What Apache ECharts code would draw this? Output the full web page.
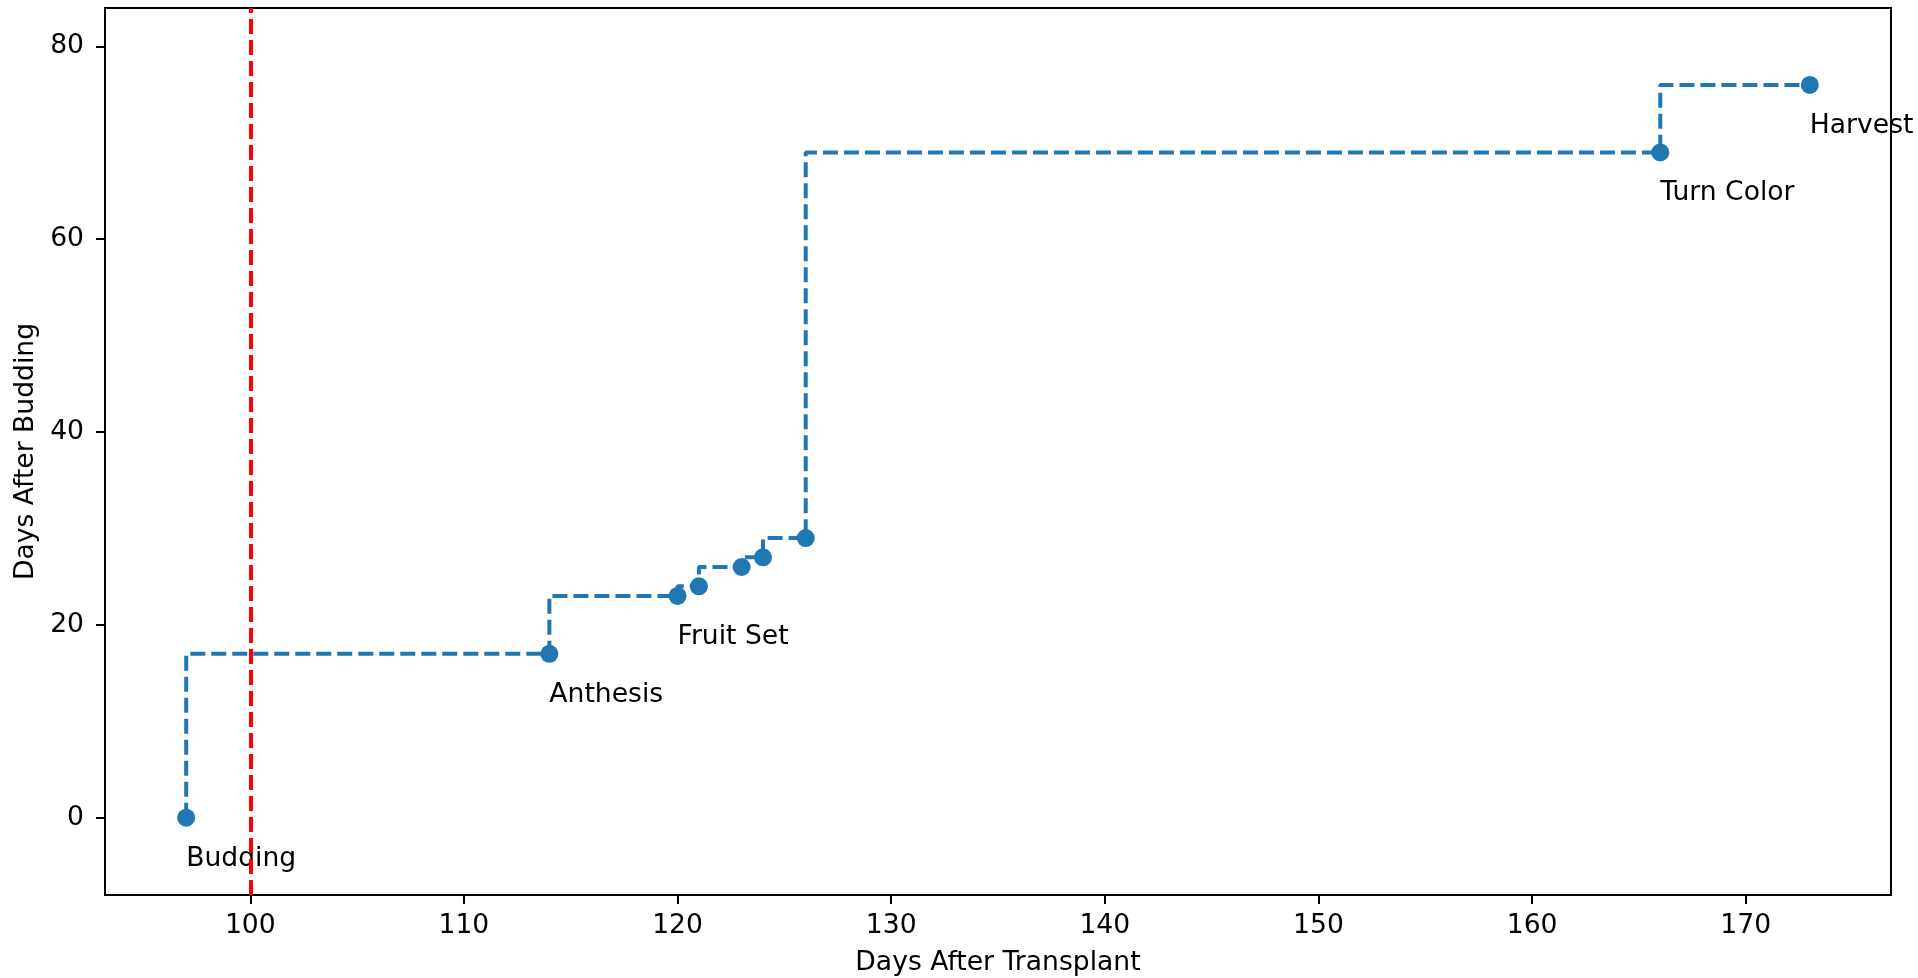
<!DOCTYPE html>
<html>
<head>
<meta charset="utf-8">
<script src="https://cdn.jsdelivr.net/npm/echarts@6/dist/echarts.min.js"></script>
<style>
html,body{margin:0;padding:0;background:#fff;}
#chart{width:1918px;height:978px;}
</style>
</head>
<body>
<div id="chart"></div>
<script>
// Data
const daysAfterTransplant = [97, 114, 120, 121, 123, 124, 126, 166, 173];
const daysAfterBudding   = [0, 17, 23, 24, 26, 27, 29, 69, 76];
const stageLabels        = ['Budding', 'Anthesis', 'Fruit Set', '', '', '', '', 'Turn Color', 'Harvest'];
const xTickValues = [100, 110, 120, 130, 140, 150, 160, 170];
const yTickValues = [0, 20, 40, 60, 80];
const referenceDay = 100;

const FONT = 'DejaVu Sans';
const FS = 26.6;

const points = daysAfterTransplant.map((x, i) => ({
  value: [x, daysAfterBudding[i]],
  label: { show: stageLabels[i] !== '', formatter: stageLabels[i] }
}));

const chart = echarts.init(document.getElementById('chart'));
chart.setOption({
  animation: false,
  backgroundColor: '#fff',
  textStyle: { fontFamily: FONT },
  grid: {
    left: 105, right: 27, top: 8, bottom: 83,
    containLabel: false,
    outerBoundsMode: 'none',
    show: true, borderColor: '#000', borderWidth: 2, backgroundColor: 'transparent'
  },
  xAxis: {
    type: 'value',
    min: 93.2, max: 176.8,
    name: 'Days After Transplant',
    nameLocation: 'middle',
    nameGap: 55,
    nameTextStyle: { fontFamily: FONT, fontSize: FS, color: '#000' },
    axisLine: { show: true, onZero: false, lineStyle: { color: '#000', width: 2 } },
    axisTick: { show: true, inside: false, length: 9, customValues: xTickValues, lineStyle: { color: '#000', width: 2 } },
    axisLabel: { show: true, customValues: xTickValues, margin: 18, fontFamily: FONT, fontSize: FS, color: '#000' },
    splitLine: { show: false }
  },
  yAxis: {
    type: 'value',
    min: -8.02, max: 83.98,
    name: 'Days After Budding',
    nameLocation: 'middle',
    nameGap: 61,
    nameTextStyle: { fontFamily: FONT, fontSize: FS, color: '#000' },
    axisLine: { show: true, onZero: false, lineStyle: { color: '#000', width: 2 } },
    axisTick: { show: true, inside: false, length: 9, customValues: yTickValues, lineStyle: { color: '#000', width: 2 } },
    axisLabel: { show: true, customValues: yTickValues, margin: 21, fontFamily: FONT, fontSize: FS, color: '#000' },
    splitLine: { show: false }
  },
  series: [
    {
      type: 'line',
      step: 'start',
      data: points,
      z: 2,
      symbol: 'circle',
      symbolSize: 18,
      itemStyle: { color: '#1f77b4' },
      lineStyle: { color: '#1f77b4', width: 4, type: [15, 6] },
      label: {
        show: true,
        position: 'inside',
        align: 'left',
        verticalAlign: 'middle',
        offset: [0, 41],
        fontFamily: FONT,
        fontSize: FS,
        color: '#000'
      },
      emphasis: { disabled: true }
    },
    {
      type: 'line',
      data: [],
      z: 5,
      markLine: {
        silent: true,
        symbol: 'none',
        label: { show: false },
        lineStyle: { color: '#ff0000', width: 4, type: [15, 6] },
        data: [{ xAxis: referenceDay }]
      }
    }
  ]
});
</script>
</body>
</html>
